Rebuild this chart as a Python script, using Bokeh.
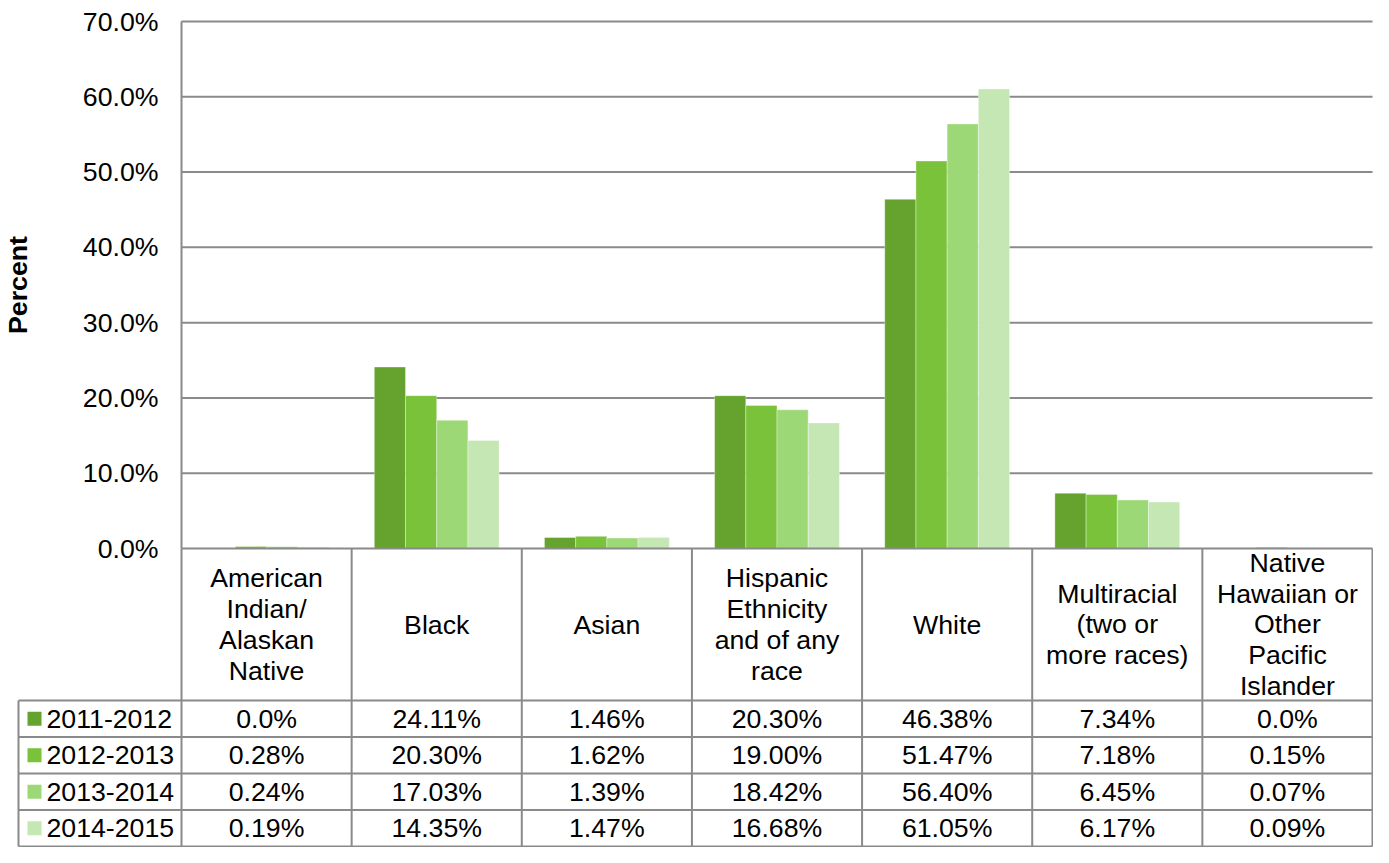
from bokeh.plotting import figure
from bokeh.models import Range1d, FixedTicker, PrintfTickFormatter, ColumnDataSource
from bokeh.core.properties import value
from bokeh.embed import file_html
from bokeh.resources import INLINE

# ---------------- data ----------------
categories = [
    "American\nIndian/\nAlaskan\nNative",
    "Black",
    "Asian",
    "Hispanic\nEthnicity\nand of any\nrace",
    "White",
    "Multiracial\n(two or\nmore races)",
    "Native\nHawaiian or\nOther\nPacific\nIslander",
]
series = ["2011-2012", "2012-2013", "2013-2014", "2014-2015"]
v_2011_2012 = [0.0, 24.11, 1.46, 20.30, 46.38, 7.34, 0.0]
v_2012_2013 = [0.28, 20.30, 1.62, 19.00, 51.47, 7.18, 0.15]
v_2013_2014 = [0.24, 17.03, 1.39, 18.42, 56.40, 6.45, 0.07]
v_2014_2015 = [0.19, 14.35, 1.47, 16.68, 61.05, 6.17, 0.09]
y_ticks = [0, 10, 20, 30, 40, 50, 60, 70]

values = [v_2011_2012, v_2012_2013, v_2013_2014, v_2014_2015]
colors = ["#66A32E", "#7AC23A", "#9DD876", "#C5E7B4"]

FONT = "Liberation Sans"
FS = "26.7px"
LINE = "#8A8A8A"

# ---------------- layout (pixels) ----------------
W, H = 1373, 847
X0PX, X7PX = 181, 1372     # category 0 and 7 boundaries
Y0PX, Y70PX = 548, 21      # 0% and 70%
n = len(categories)
S = (X7PX - X0PX) / n      # px per category
K = (Y0PX - Y70PX) / 70.0  # px per percent


def xd(px):
    return (px - X0PX) / S


def yd(py):
    return (Y0PX - py) / K


p = figure(width=W, height=H, output_backend="svg", toolbar_location=None,
           x_range=Range1d(xd(0), xd(W)), y_range=Range1d(yd(H), yd(0)),
           x_axis_location=None, min_border=0, outline_line_color=None)
p.xgrid.visible = False
p.ygrid.visible = False

# gridlines (drawn under bars)
gy = [t for t in y_ticks if t != 0]
p.segment(x0=[0] * len(gy), y0=gy, x1=[n] * len(gy), y1=gy, line_color=LINE, line_width=2)

# bars
bw = 31.2 / S
for j, (name, vals, col) in enumerate(zip(series, values, colors)):
    xs = [i + 0.5 + (j - 1.5) * bw for i in range(n)]
    src = ColumnDataSource(dict(x=xs, top=vals))
    p.vbar(x="x", top="top", bottom=0, width=bw, source=src, fill_color=col,
           line_color="white", line_alpha=0.35, line_width=1)

# y axis, fixed at the category-area left edge
p.yaxis.fixed_location = 0
p.yaxis.bounds = (0, 70)
p.yaxis.ticker = FixedTicker(ticks=y_ticks)
p.yaxis.formatter = PrintfTickFormatter(format="%.1f%%")
p.yaxis.major_tick_out = 0
p.yaxis.major_tick_in = 0
p.yaxis.minor_tick_out = 0
p.yaxis.minor_tick_in = 0
p.yaxis.major_label_standoff = 23
p.yaxis.major_label_text_font = FONT
p.yaxis.major_label_text_font_size = FS
p.yaxis.major_label_text_color = "black"
p.yaxis.axis_line_color = LINE
p.yaxis.axis_line_width = 2
p.yaxis.axis_label = "Percent"
p.yaxis.axis_label_text_font = FONT
p.yaxis.axis_label_text_font_size = FS
p.yaxis.axis_label_text_font_style = "bold"
p.yaxis.axis_label_text_color = "black"
p.yaxis.axis_label_standoff = 47

# ---------------- data table ----------------
head_bot = 700
row_h = 36.5
row_lines = [head_bot + k * row_h for k in range(len(series) + 1)]
xl = xd(18)

# horizontal lines: category axis line + row lines
hx0 = [0] + [xl] * len(row_lines)
hx1 = [n] * (1 + len(row_lines))
hy = [0] + [yd(r) for r in row_lines]
p.segment(x0=hx0, y0=hy, x1=hx1, y1=hy, line_color=LINE, line_width=2)
# vertical lines
vx = list(range(n + 1)) + [xl]
vy0 = [0] * (n + 1) + [yd(head_bot)]
vy1 = [yd(row_lines[-1])] * (n + 2)
p.segment(x0=vx, y0=vy0, x1=vx, y1=vy1, line_color=LINE, line_width=2)

# header texts
p.text(x=[i + 0.5 for i in range(n)], y=[yd((Y0PX + head_bot) / 2)] * n, text=categories,
       text_align="center", text_baseline="middle", text_font=value(FONT),
       text_font_size=FS, text_color="black", text_line_height=1.03)


def fmt(v):
    return "0.0%" if v == 0 else f"{v:.2f}%"


for j, (name, vals, col) in enumerate(zip(series, values, colors)):
    yc = yd(head_bot + (j + 0.5) * row_h)
    p.scatter(x=[xd(34)], y=[yc], marker="square", size=14,
              fill_color=col, line_color=None)
    p.text(x=[xd(46)], y=[yc], text=[name], text_align="left",
           text_baseline="middle", text_font=value(FONT), text_font_size=FS,
           text_color="black")
    p.text(x=[i + 0.5 for i in range(n)], y=[yc] * n, text=[fmt(v) for v in vals],
           text_align="center", text_baseline="middle", text_font=value(FONT),
           text_font_size=FS, text_color="black")

open("out.html", "w").write(file_html(p, INLINE))
